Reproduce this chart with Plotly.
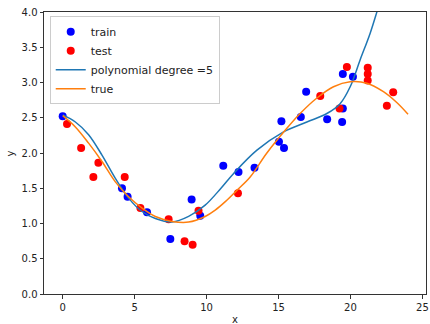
import plotly.graph_objects as go

# Data
train_x = [0.0, 4.12, 4.51, 5.86, 7.48, 8.96, 9.56, 11.16, 12.22, 13.33, 15.03, 15.2, 15.38,
           16.55, 16.92, 18.38, 19.42, 19.47, 19.47, 20.17]
train_y = [2.52, 1.50, 1.38, 1.16, 0.78, 1.34, 1.11, 1.82, 1.73, 1.79, 2.16, 2.45, 2.07,
           2.51, 2.87, 2.48, 2.44, 2.63, 3.12, 3.08]

test_x = [0.3, 1.28, 2.13, 2.48, 4.31, 5.40, 7.36, 8.47, 9.03, 9.44, 12.18, 17.90, 19.24,
          19.75, 21.2, 21.2, 21.2, 22.53, 22.97]
test_y = [2.41, 2.07, 1.66, 1.86, 1.66, 1.22, 1.06, 0.75, 0.70, 1.18, 1.43, 2.81, 2.63,
          3.22, 3.21, 3.12, 3.03, 2.67, 2.86]

poly_x = [0.0, 0.88, 1.8, 2.73, 3.66, 4.58, 5.51, 6.44, 7.6, 8.75, 9.9, 11.0, 11.88, 13.5,
          15.35, 16.97, 18.36, 19.28, 19.98, 20.67, 21.37, 21.88, 22.5, 23.2, 24.0]
poly_y = [2.54, 2.44, 2.26, 1.97, 1.64, 1.36, 1.17, 1.07, 1.02, 1.10, 1.26, 1.50, 1.71, 2.04,
          2.30, 2.44, 2.56, 2.70, 2.94, 3.32, 3.70, 4.03, 4.45, 5.0, 5.8]

true_x = [0.0, 0.88, 1.8, 2.73, 3.66, 4.58, 5.51, 6.44, 7.6, 8.75, 9.9, 10.6, 11.3, 12.1,
          13.03, 14.19, 15.58, 16.5, 17.67, 18.82, 19.98, 21.14, 22.29, 23.2, 24.0]
true_y = [2.53, 2.37, 2.14, 1.88, 1.59, 1.38, 1.22, 1.10, 1.03, 1.02, 1.10, 1.19, 1.31, 1.47,
          1.66, 2.00, 2.35, 2.56, 2.78, 2.94, 3.01, 2.99, 2.87, 2.72, 2.55]

x_ticks = [0, 5, 10, 15, 20, 25]
y_ticks = [0.0, 0.5, 1.0, 1.5, 2.0, 2.5, 3.0, 3.5, 4.0]

fig = go.Figure()
fig.add_trace(go.Scatter(x=train_x, y=train_y, mode="markers", name="train",
                         marker=dict(color="#0000ff", size=8)))
fig.add_trace(go.Scatter(x=test_x, y=test_y, mode="markers", name="test",
                         marker=dict(color="#ff0000", size=8)))
fig.add_trace(go.Scatter(x=poly_x, y=poly_y, mode="lines", name="polynomial degree =5",
                         line=dict(color="#1f77b4", width=1.5, shape="spline", smoothing=1.0)))
fig.add_trace(go.Scatter(x=true_x, y=true_y, mode="lines", name="true",
                         line=dict(color="#ff7f0e", width=1.5, shape="spline", smoothing=1.0)))

axis_common = dict(showgrid=False, zeroline=False, showline=True, mirror=True,
                   linecolor="#333333", linewidth=1, ticks="outside", ticklen=3.5,
                   tickcolor="#333333", automargin=False,
                   tickfont=dict(family="DejaVu Sans", size=10, color="#222222"))

fig.update_layout(
    width=430, height=324,
    margin=dict(l=44, r=4, t=12, b=30),
    paper_bgcolor="white", plot_bgcolor="white",
    font=dict(family="DejaVu Sans", size=10, color="#222222"),
    xaxis=dict(range=[-1.3, 25.25], tickvals=x_ticks, **axis_common),
    yaxis=dict(range=[0, 4], tickvals=y_ticks, tickformat=".1f", **axis_common),
    legend=dict(x=0.015, y=0.985, xanchor="left", yanchor="top",
                bgcolor="rgba(255,255,255,0.8)", bordercolor="#cccccc", borderwidth=1,
                font=dict(family="DejaVu Sans", size=11, color="#222222"),
                tracegroupgap=0, itemwidth=30),
    showlegend=True,
    annotations=[
        dict(text="x", xref="paper", yref="paper", x=0.5, y=-0.09, showarrow=False,
             xanchor="center", yanchor="middle", font=dict(size=10)),
        dict(text="y", xref="paper", yref="paper", x=-0.088, y=0.5, showarrow=False,
             textangle=-90, xanchor="center", yanchor="middle", font=dict(size=10)),
    ],
)

fig.write_html("out.html", config={"displayModeBar": False},
               post_script="document.body.style.margin='0';")
